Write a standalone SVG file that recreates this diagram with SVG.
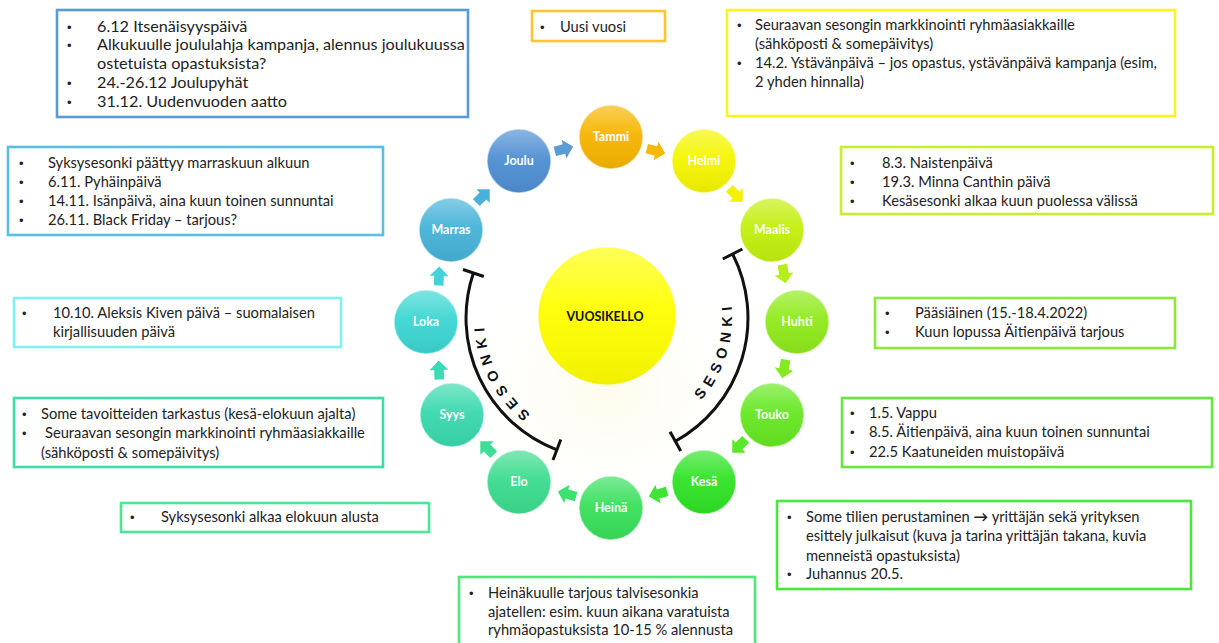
<svg xmlns="http://www.w3.org/2000/svg" width="1219" height="643" viewBox="0 0 1219 643">
<style>
.box{fill:#fff;stroke-width:2.6}
.t{font-family:Lato,"Liberation Sans",sans-serif;font-size:14.7px;fill:#222}
.t1{font-family:Lato,"Liberation Sans",sans-serif;font-size:16.2px;fill:#222}
.b{font-family:"Liberation Sans",sans-serif;font-size:13px;fill:#222}
.lbl{font-family:Lato,"Liberation Sans",sans-serif;font-size:12.5px;font-weight:bold;fill:#fff;text-anchor:middle}
.rim{fill:url(#gloss);stroke:#fff;stroke-opacity:.55;stroke-width:1.5}
.arc{fill:none;stroke:#111;stroke-width:3;marker-start:url(#tee);marker-end:url(#tee)}
.ses{font-family:"Liberation Sans",sans-serif;font-size:14.5px;font-weight:bold;letter-spacing:6px;fill:#111}
</style>
<defs>
<linearGradient id="gloss" x1="0" y1="0" x2="0" y2="1">
<stop offset="0" stop-color="#fff" stop-opacity=".35"/>
<stop offset=".45" stop-color="#fff" stop-opacity=".05"/>
<stop offset="1" stop-color="#000" stop-opacity=".06"/>
</linearGradient>
<radialGradient id="glow" cx=".5" cy=".5" r=".5">
<stop offset="0" stop-color="#fdfbe6" stop-opacity=".8"/>
<stop offset="1" stop-color="#fff" stop-opacity="0"/>
</radialGradient>
<marker id="tee" markerUnits="userSpaceOnUse" markerWidth="30" markerHeight="30" viewBox="-15 -15 30 30" refX="0" refY="0" orient="auto">
<line x1="0" y1="-11" x2="0" y2="11" stroke="#111" stroke-width="3"/>
</marker>
<path id="ar" d="M-9.5,-4.8 L0,-4.8 L0,-9.5 L9.5,0 L0,9.5 L0,4.8 L-9.5,4.8 Z"/>
<path id="pR" d="M693,408.7 A125 125 0 0 0 728.6,288.8"/>
<path id="pL" d="M539.3,420.7 A123 123 0 0 1 484.2,310.7"/>
</defs>
<rect width="1219" height="643" fill="#fff"/>
<ellipse cx="607" cy="390" rx="170" ry="140" fill="url(#glow)"/>

<g id="connectors">
<use href="#ar" transform="translate(564,149) rotate(-15)" fill="#5B9BD5"/>
<use href="#ar" transform="translate(656,151) rotate(15)" fill="#F8B800"/>
<use href="#ar" transform="translate(736,195) rotate(45)" fill="#F2F200"/>
<use href="#ar" transform="translate(784,274) rotate(80)" fill="#B6EE1A"/>
<use href="#ar" transform="translate(784,369) rotate(100)" fill="#86EA22"/>
<use href="#ar" transform="translate(739,446) rotate(135)" fill="#5AE82A"/>
<use href="#ar" transform="translate(658,494) rotate(164)" fill="#3DE535"/>
<use href="#ar" transform="translate(567,494) rotate(196)" fill="#3CE270"/>
<use href="#ar" transform="translate(487,448) rotate(225)" fill="#3EDE98"/>
<use href="#ar" transform="translate(439,370) rotate(268)" fill="#3CDBB5"/>
<use href="#ar" transform="translate(439,276) rotate(272)" fill="#40D4DA"/>
<use href="#ar" transform="translate(483,196) rotate(315)" fill="#4AB0DC"/>
<path class="arc" d="M732.6,254 A141 141 0 0 1 675.4,441.3"/>
<path class="arc" d="M473.4,273 A141 141 0 0 0 556.9,449.8"/>
<text class="ses"><textPath href="#pR" startOffset="50%" text-anchor="middle">SESONKI</textPath></text>
<text class="ses"><textPath href="#pL" startOffset="50%" text-anchor="middle">SESONKI</textPath></text>
</g>

<g id="center">
<circle cx="607" cy="316" r="69" fill="#FFFF00"/>
<circle cx="607" cy="316" r="69" class="rim"/>
<text x="605" y="321" font-family="Lato,'Liberation Sans',sans-serif" font-size="12.5" font-weight="bold" fill="#111" text-anchor="middle">VUOSIKELLO</text>
</g>

<g id="tammi"><circle cx="611" cy="137" r="32" fill="#F7B500"/><circle cx="611" cy="137" r="32" class="rim"/><text class="lbl" x="611" y="141">Tammi</text></g>
<g id="helmi"><circle cx="704" cy="161" r="32" fill="#F5F500"/><circle cx="704" cy="161" r="32" class="rim"/><text class="lbl" x="704" y="165">Helmi</text></g>
<g id="maalis"><circle cx="772" cy="230" r="32" fill="#C2F00E"/><circle cx="772" cy="230" r="32" class="rim"/><text class="lbl" x="772" y="234">Maalis</text></g>
<g id="huhti"><circle cx="797" cy="322" r="32" fill="#8FEA1A"/><circle cx="797" cy="322" r="32" class="rim"/><text class="lbl" x="797" y="326">Huhti</text></g>
<g id="touko"><circle cx="772" cy="415" r="32" fill="#66E822"/><circle cx="772" cy="415" r="32" class="rim"/><text class="lbl" x="772" y="419">Touko</text></g>
<g id="kesa"><circle cx="704" cy="482" r="32" fill="#30E326"/><circle cx="704" cy="482" r="32" class="rim"/><text class="lbl" x="704" y="486">Kesä</text></g>
<g id="heina"><circle cx="611" cy="508" r="32" fill="#38E05C"/><circle cx="611" cy="508" r="32" class="rim"/><text class="lbl" x="611" y="512">Heinä</text></g>
<g id="elo"><circle cx="519" cy="482" r="32" fill="#3CDC8E"/><circle cx="519" cy="482" r="32" class="rim"/><text class="lbl" x="519" y="486">Elo</text></g>
<g id="syys"><circle cx="452" cy="415" r="32" fill="#3AD9AE"/><circle cx="452" cy="415" r="32" class="rim"/><text class="lbl" x="452" y="419">Syys</text></g>
<g id="loka"><circle cx="426" cy="322" r="32" fill="#3CD6D2"/><circle cx="426" cy="322" r="32" class="rim"/><text class="lbl" x="426" y="326">Loka</text></g>
<g id="marras"><circle cx="451" cy="230" r="32" fill="#46B3D8"/><circle cx="451" cy="230" r="32" class="rim"/><text class="lbl" x="451" y="234">Marras</text></g>
<g id="joulu"><circle cx="519" cy="161" r="32" fill="#4F8FD2"/><circle cx="519" cy="161" r="32" class="rim"/><text class="lbl" x="519" y="165">Joulu</text></g>

<g id="box-joulu">
<rect class="box" x="57" y="10" width="411" height="107" stroke="#5B9BD5"/>
<text class="b" x="67" y="32">•</text><text class="t1" x="97" y="32">6.12 Itsenäisyyspäivä</text>
<text class="b" x="67" y="50">•</text><text class="t1" x="97" y="50">Alkukuulle joululahja kampanja, alennus joulukuussa</text>
<text class="t1" x="97" y="69">ostetuista opastuksista?</text>
<text class="b" x="67" y="88">•</text><text class="t1" x="97" y="88">24.-26.12 Joulupyhät</text>
<text class="b" x="67" y="107">•</text><text class="t1" x="97" y="107">31.12. Uudenvuoden aatto</text>
</g>

<g id="box-marras">
<rect class="box" x="8" y="147" width="375" height="88" stroke="#5ABEE2"/>
<text class="b" x="19" y="168">•</text><text class="t" x="48" y="168">Syksysesonki päättyy marraskuun alkuun</text>
<text class="b" x="19" y="187">•</text><text class="t" x="48" y="187">6.11. Pyhäinpäivä</text>
<text class="b" x="19" y="206">•</text><text class="t" x="48" y="206">14.11. Isänpäivä, aina kuun toinen sunnuntai</text>
<text class="b" x="19" y="225">•</text><text class="t" x="48" y="225">26.11. Black Friday – tarjous?</text>
</g>

<g id="box-tammi">
<rect class="box" x="532" y="11" width="133" height="30" stroke="#FFC52A"/>
<text class="b" x="540" y="32">•</text><text class="t" x="560" y="32">Uusi vuosi</text>
</g>

<g id="box-helmi">
<rect class="box" x="727" y="10" width="448" height="106" stroke="#F7F71E"/>
<text class="b" x="737" y="30">•</text><text class="t" x="755" y="30">Seuraavan sesongin markkinointi ryhmäasiakkaille</text>
<text class="t" x="755" y="49">(sähköposti &amp; somepäivitys)</text>
<text class="b" x="737" y="68">•</text><text class="t" x="755" y="68">14.2. Ystävänpäivä – jos opastus, ystävänpäivä kampanja (esim,</text>
<text class="t" x="755" y="87">2 yhden hinnalla)</text>
</g>

<g id="box-maalis">
<rect class="box" x="841" y="147" width="372" height="67" stroke="#C5F02A"/>
<text class="b" x="850" y="168">•</text><text class="t" x="882" y="168">8.3. Naistenpäivä</text>
<text class="b" x="850" y="187">•</text><text class="t" x="882" y="187">19.3. Minna Canthin päivä</text>
<text class="b" x="850" y="206">•</text><text class="t" x="882" y="206">Kesäsesonki alkaa kuun puolessa välissä</text>
</g>

<g id="box-huhti">
<rect class="box" x="875" y="298" width="300" height="50" stroke="#8AEA3C"/>
<text class="b" x="885" y="318">•</text><text class="t" x="915" y="318">Pääsiäinen (15.-18.4.2022)</text>
<text class="b" x="885" y="337">•</text><text class="t" x="915" y="337">Kuun lopussa Äitienpäivä tarjous</text>
</g>

<g id="box-touko">
<rect class="box" x="842" y="398" width="370" height="69" stroke="#66E83E"/>
<text class="b" x="850" y="418">•</text><text class="t" x="869" y="418">1.5. Vappu</text>
<text class="b" x="850" y="437">•</text><text class="t" x="869" y="437">8.5. Äitienpäivä, aina kuun toinen sunnuntai</text>
<text class="b" x="850" y="457">•</text><text class="t" x="869" y="457">22.5 Kaatuneiden muistopäivä</text>
</g>

<g id="box-kesa">
<rect class="box" x="777" y="501" width="414" height="88" stroke="#4AE83E"/>
<text class="b" x="787" y="522">•</text><text class="t" x="806" y="522">Some tilien perustaminen <tspan font-weight="bold">→</tspan> yrittäjän sekä yrityksen</text>
<text class="t" x="806" y="541">esittely julkaisut (kuva ja tarina yrittäjän takana, kuvia</text>
<text class="t" x="806" y="561">menneistä opastuksista)</text>
<text class="b" x="787" y="579">•</text><text class="t" x="806" y="579">Juhannus 20.5.</text>
</g>

<g id="box-heina">
<rect class="box" x="459" y="577" width="296" height="80" stroke="#52E878"/>
<text class="b" x="469" y="598">•</text><text class="t" x="488" y="598">Heinäkuulle tarjous talvisesonkia</text>
<text class="t" x="488" y="617">ajatellen: esim. kuun aikana varatuista</text>
<text class="t" x="488" y="635">ryhmäopastuksista 10-15 % alennusta</text>
</g>

<g id="box-elo">
<rect class="box" x="121" y="503" width="308" height="29" stroke="#4FE598"/>
<text class="b" x="130" y="522">•</text><text class="t" x="161" y="522">Syksysesonki alkaa elokuun alusta</text>
</g>

<g id="box-syys">
<rect class="box" x="14" y="398" width="369" height="69" stroke="#40DCA6"/>
<text class="b" x="22" y="419">•</text><text class="t" x="41" y="419">Some tavoitteiden tarkastus (kesä-elokuun ajalta)</text>
<text class="b" x="22" y="438">•</text><text class="t" x="45" y="438">Seuraavan sesongin markkinointi ryhmäasiakkaille</text>
<text class="t" x="41" y="458">(sähköposti &amp; somepäivitys)</text>
</g>

<g id="box-loka">
<rect class="box" x="14" y="298" width="327" height="49" stroke="#7EF2F2"/>
<text class="b" x="22" y="318">•</text><text class="t" x="53" y="318">10.10. Aleksis Kiven päivä – suomalaisen</text>
<text class="t" x="53" y="337">kirjallisuuden päivä</text>
</g>
</svg>
